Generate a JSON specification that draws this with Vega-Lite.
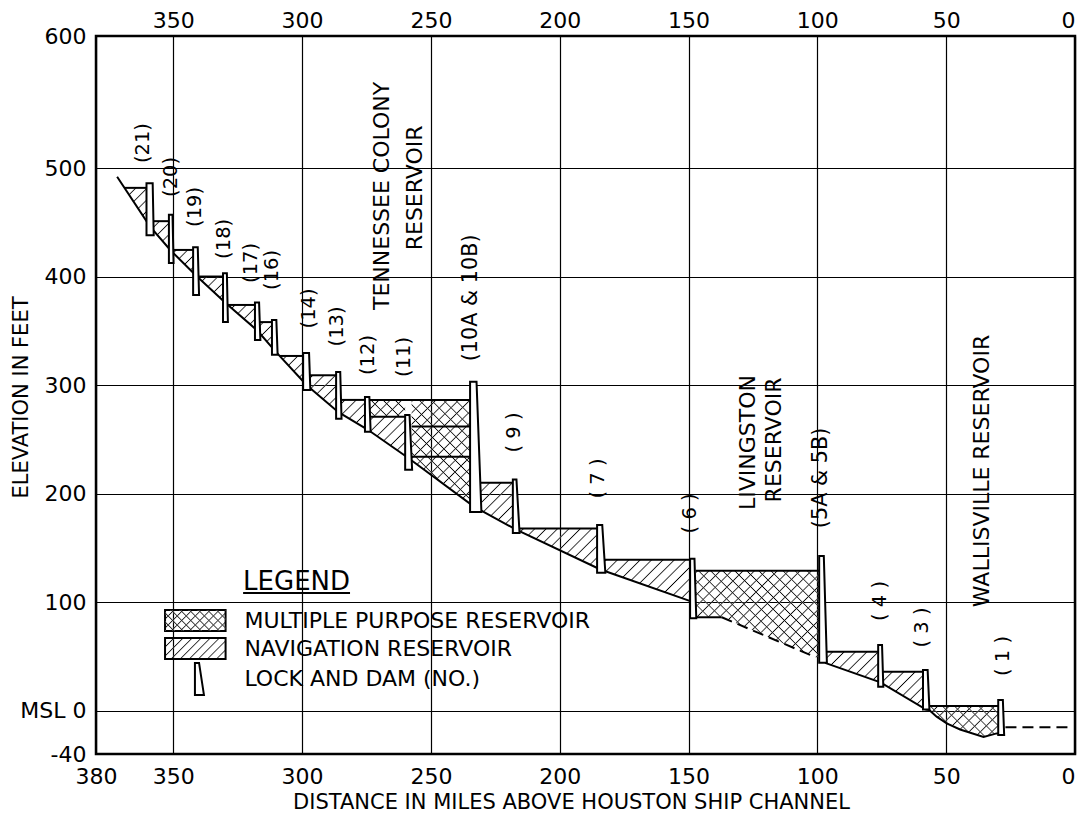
{
"$schema":"https://vega.github.io/schema/vega-lite/v6.json",
"width":979,"height":718,
"autosize":{"type":"none"},
"padding":{"left":96,"top":36,"right":4,"bottom":65},
"background":"white",
"config":{
"font":"DejaVu Sans",
"view":{"stroke":"#000","strokeWidth":2.5},
"axis":{"labelColor":"#000","titleColor":"#000","labelFont":"DejaVu Sans","titleFont":"DejaVu Sans","labelFontSize":22,"titleFontSize":21,"titleFontWeight":"normal","gridColor":"#000","gridOpacity":1,"gridWidth":1.2,"ticks":false,"domain":false,"labelFlush":false,"labelOverlap":false},
"text":{"color":"#000","font":"DejaVu Sans"}
},
"datasets":{
"hA":[
{"m":368.9,"e":481.7,"e2":481.7},{"m":360.4,"e":451.0,"e2":481.7},{"m":359.2,"e":null,"e2":null},
{"m":357.8,"e":442.7,"e2":451},{"m":351.7,"e":425.9,"e2":451},{"m":350.9,"e":null,"e2":null},
{"m":350.0,"e":421.7,"e2":424.5},{"m":342.3,"e":403.6,"e2":424.5},{"m":341.2,"e":null,"e2":null},
{"m":340.0,"e":398.3,"e2":400},{"m":330.7,"e":377.8,"e2":400},{"m":329.9,"e":null,"e2":null},
{"m":328.8,"e":373.8,"e2":373.8},{"m":318.3,"e":352.1,"e2":373.8},{"m":317.3,"e":null,"e2":null},
{"m":316.4,"e":347.5,"e2":358},{"m":311.7,"e":334.7,"e2":358},{"m":310.5,"e":null,"e2":null},
{"m":308.7,"e":326.8,"e2":326.8},{"m":299.6,"e":303.4,"e2":326.8},{"m":298.3,"e":null,"e2":null},
{"m":297.0,"e":297.4,"e2":309},{"m":286.8,"e":276.8,"e2":309},{"m":285.9,"e":null,"e2":null},
{"m":285.0,"e":273.7,"e2":286.3},{"m":275.6,"e":260.4,"e2":286.3},{"m":274.6,"e":null,"e2":null},
{"m":273.7,"e":257.5,"e2":286.3},{"m":260.0,"e":234.8,"e2":286.3},{"m":258.9,"e":null,"e2":null},
{"m":257.5,"e":230.5,"e2":286.3},{"m":234.8,"e":190.6,"e2":286.3},{"m":233.3,"e":null,"e2":null},
{"m":231.5,"e":185.7,"e2":210},{"m":218.2,"e":168.4,"e2":210},{"m":217.1,"e":null,"e2":null},
{"m":216.2,"e":166.0,"e2":167.8},{"m":185.5,"e":131.5,"e2":167.8},{"m":184.2,"e":null,"e2":null},
{"m":182.9,"e":128.9,"e2":139},{"m":149.4,"e":101.0,"e2":139},{"m":148.2,"e":null,"e2":null},
{"m":147.2,"e":86,"e2":128.9},{"m":137.1,"e":86,"e2":128.9},{"m":100.9,"e":49.4,"e2":128.9},{"m":99.3,"e":47.8,"e2":128.9},{"m":98.2,"e":null,"e2":null},
{"m":96.6,"e":43.7,"e2":54.3},{"m":76.4,"e":26.8,"e2":54.3},{"m":75.5,"e":null,"e2":null},
{"m":74.5,"e":24.6,"e2":35.8},{"m":59.0,"e":2.7,"e2":35.8},{"m":57.8,"e":null,"e2":null},
{"m":56.6,"e":0.5,"e2":4.2},{"m":53.7,"e":-5.6,"e2":4.2},{"m":49.8,"e":-11.8,"e2":4.2},{"m":44.6,"e":-17.4,"e2":4.2},{"m":35.5,"e":-24.2,"e2":4.2},{"m":30.4,"e":-21,"e2":4.2},{"m":29.8,"e":-21,"e2":4.2}
],
"hB":[
{"m":273.7,"e":270.7,"e2":286.3},{"m":260.0,"e":270.7,"e2":286.3},{"m":258.9,"e":null,"e2":null},
{"m":257.5,"e":230.5,"e2":286.3},{"m":234.8,"e":190.6,"e2":286.3},{"m":200,"e":null,"e2":null},
{"m":147.2,"e":86,"e2":128.9},{"m":137.1,"e":86,"e2":128.9},{"m":100.9,"e":49.4,"e2":128.9},{"m":99.3,"e":47.8,"e2":128.9},{"m":80,"e":null,"e2":null},
{"m":56.6,"e":0.5,"e2":4.2},{"m":53.7,"e":-5.6,"e2":4.2},{"m":49.8,"e":-11.8,"e2":4.2},{"m":44.6,"e":-17.4,"e2":4.2},{"m":35.5,"e":-24.2,"e2":4.2},{"m":30.4,"e":-21,"e2":4.2},{"m":29.8,"e":-21,"e2":4.2}
],
"surf":[
{"m":368.9,"m2":360.4,"e":481.7},{"m":357.8,"m2":351.7,"e":451},{"m":350.0,"m2":342.3,"e":424.5},{"m":340.0,"m2":330.7,"e":400},{"m":328.8,"m2":318.3,"e":373.8},{"m":316.4,"m2":311.7,"e":358},{"m":308.7,"m2":299.6,"e":326.8},{"m":297.0,"m2":286.8,"e":309},{"m":285.0,"m2":275.6,"e":286.3},{"m":273.7,"m2":260.0,"e":270.7},{"m":273.7,"m2":234.8,"e":286.3},{"m":257.5,"m2":234.8,"e":261.8},{"m":257.5,"m2":234.8,"e":234},{"m":231.5,"m2":218.2,"e":210},{"m":216.2,"m2":185.5,"e":167.8},{"m":182.9,"m2":149.4,"e":139},{"m":147.2,"m2":99.3,"e":128.9},{"m":96.6,"m2":76.4,"e":54.3},{"m":74.5,"m2":59.0,"e":35.8},{"m":56.6,"m2":29.8,"e":4.2}
],
"bed":[
{"s":"a","m":371.8,"e":492},{"s":"a","m":359.0,"e":446},{"s":"a","m":351.0,"e":424},{"s":"a","m":341.2,"e":401},{"s":"a","m":329.9,"e":376},{"s":"a","m":317.3,"e":350},{"s":"a","m":310.7,"e":332},{"s":"a","m":298.3,"e":300},{"s":"a","m":285.9,"e":275},{"s":"a","m":274.6,"e":259},{"s":"a","m":258.9,"e":233},{"s":"a","m":233.3,"e":188},{"s":"a","m":217.1,"e":167},{"s":"a","m":184.2,"e":130},{"s":"a","m":148.2,"e":100},
{"s":"b","m":147.1,"e":86},{"s":"b","m":137.1,"e":86},
{"s":"c","m":97.0,"e":44},{"s":"c","m":75.5,"e":26},{"s":"c","m":57.8,"e":1},{"s":"c","m":56.6,"e":0.5},{"s":"c","m":53.7,"e":-5.6},{"s":"c","m":49.8,"e":-11.8},{"s":"c","m":44.6,"e":-17.4},{"s":"c","m":35.5,"e":-24.2},{"s":"c","m":30.4,"e":-21},{"s":"c","m":28.7,"e":-21}
],
"dash":[
{"s":"a","m":137.1,"e":86},{"s":"a","m":100.9,"e":49.4},{"s":"b","m":27.0,"e":-15.4},{"s":"b","m":2.0,"e":-15.4}
],
"dams":[
{"d":"21","e":486,"m":360.4,"m2":358.0},{"d":"21","e":438,"m":360.4,"m2":357.6},
{"d":"20","e":457,"m":351.7,"m2":350.3},{"d":"20","e":412.5,"m":351.7,"m2":349.9},
{"d":"19","e":427,"m":342.3,"m2":340.5},{"d":"19","e":383,"m":342.3,"m2":340.0},
{"d":"18","e":403,"m":330.7,"m2":329.2},{"d":"18","e":358,"m":330.7,"m2":328.8},
{"d":"17","e":376,"m":318.3,"m2":316.7},{"d":"17","e":341.5,"m":318.3,"m2":316.2},
{"d":"16","e":360,"m":311.7,"m2":310.0},{"d":"16","e":328,"m":311.7,"m2":309.5},
{"d":"14","e":329.6,"m":299.6,"m2":297.3},{"d":"14","e":295.5,"m":299.6,"m2":296.8},
{"d":"13","e":312,"m":286.8,"m2":285.2},{"d":"13","e":269,"m":286.8,"m2":284.7},
{"d":"12","e":289,"m":275.6,"m2":273.9},{"d":"12","e":257,"m":275.6,"m2":273.4},
{"d":"11","e":272.4,"m":260.0,"m2":258.3},{"d":"11","e":222,"m":260.0,"m2":257.3},
{"d":"10","e":303,"m":234.8,"m2":232.3},{"d":"10","e":183,"m":234.8,"m2":230.4},
{"d":"9","e":213,"m":218.2,"m2":216.8},{"d":"9","e":163.6,"m":218.2,"m2":215.6},
{"d":"7","e":171,"m":185.5,"m2":183.5},{"d":"7","e":127,"m":185.5,"m2":182.3},
{"d":"6","e":140,"m":149.4,"m2":147.7},{"d":"6","e":85,"m":149.4,"m2":147.0},
{"d":"5","e":142.5,"m":99.3,"m2":97.5},{"d":"5","e":44,"m":99.3,"m2":96.3},
{"d":"4","e":60.5,"m":76.4,"m2":74.9},{"d":"4","e":22,"m":76.4,"m2":74.4},
{"d":"3","e":37.4,"m":59.0,"m2":57.2},{"d":"3","e":1,"m":59.0,"m2":56.5},
{"d":"1","e":9.8,"m":29.8,"m2":28.0},{"d":"1","e":-22.5,"m":29.8,"m2":27.5},
{"d":"L","e":43.9,"m":341.6,"m2":340.0},{"d":"L","e":14.4,"m":341.6,"m2":338.1}
],
"rot":[
{"t":"(21)","m":361.6,"e":518.9,"k":"n"},{"t":"(20)","m":350.7,"e":491.8,"k":"n"},{"t":"(19)","m":341.4,"e":464.1,"k":"n"},{"t":"(18)","m":330.3,"e":434.7,"k":"n"},{"t":"(17)","m":320.0,"e":412.5,"k":"n"},{"t":"(16)","m":311.7,"e":406.1,"k":"n"},{"t":"(14)","m":297.3,"e":370.6,"k":"n"},{"t":"(13)","m":286.3,"e":354,"k":"n"},{"t":"(12)","m":274.6,"e":327.7,"k":"n"},{"t":"(11)","m":260.4,"e":325.9,"k":"n"},{"t":"(10A & 10B)","m":234.4,"e":380.3,"k":"m"},{"t":"( 9 )","m":217.7,"e":256.3,"k":"n"},{"t":"( 7 )","m":185.3,"e":213.9,"k":"n"},{"t":"( 6 )","m":149.4,"e":181.7,"k":"n"},{"t":"(5A & 5B)","m":98.4,"e":214.4,"k":"m"},{"t":"( 4 )","m":75.5,"e":101,"k":"n"},{"t":"( 3 )","m":59.3,"e":76.6,"k":"n"},{"t":"( 1 )","m":28.1,"e":50.3,"k":"n"},
{"t":"TENNESSEE COLONY","m":269.0,"e":474.3,"k":"r"},{"t":"RESERVOIR","m":256.2,"e":481.7,"k":"r"},{"t":"LIVINGSTON","m":127.1,"e":247.1,"k":"r"},{"t":"RESERVOIR","m":117.0,"e":249.4,"k":"r"},{"t":"WALLISVILLE  RESERVOIR","m":36.1,"e":220.8,"k":"r"}
],
"leg":[
{"t":"LEGEND","m":322.9,"e":118.5,"k":"h"},{"t":"MULTIPLE PURPOSE RESERVOIR","m":322.4,"e":82.6,"k":"b"},{"t":"NAVIGATION RESERVOIR","m":322.4,"e":56.8,"k":"b"},{"t":"LOCK AND DAM  (NO.)","m":322.4,"e":29.1,"k":"b"}
],
"sw":[
{"k":"mp","m":353.2,"m2":329.7,"e":92.7,"e2":73.4},{"k":"nv","m":353.2,"m2":329.7,"e":66.9,"e2":47.6}
]
},
"encoding":{
"x":{"field":"m","type":"quantitative","scale":{"domain":[0,380],"reverse":true,"nice":false,"zero":false},"axis":null},
"y":{"field":"e","type":"quantitative","scale":{"domain":[-40,500,600],"range":[718,132,0],"nice":false,"zero":false},
"axis":{"values":[-40,0,100,200,300,400,500,600],"title":"ELEVATION IN FEET","grid":true,"labelPadding":10,"labelExpr":"datum.value == 0 ? 'MSL 0' : (datum.value == -40 ? '-40' : datum.label)","titleAngle":270,"titleX":-75,"titleY":361,"titleAlign":"center","titleBaseline":"middle"}}
},
"resolve":{"axis":{"x":"independent"},"scale":{"size":"independent"}},
"layer":[
{"data":{"name":"hA"},"mark":{"type":"area","orient":"vertical","invalid":"break-paths-show-domains","opacity":1,"fill":{"gradient":"linear","x1":0,"y1":0,"x2":1.1673,"y2":0.7336,"stops":[
{"offset":0,"color":"#000"},{"offset":0.0012,"color":"#fff0"},{"offset":0.0068,"color":"#fff0"},
{"offset":0.008,"color":"#000"},{"offset":0.0092,"color":"#fff0"},{"offset":0.0148,"color":"#fff0"},
{"offset":0.016,"color":"#000"},{"offset":0.0172,"color":"#fff0"},{"offset":0.0228,"color":"#fff0"},
{"offset":0.024,"color":"#000"},{"offset":0.0252,"color":"#fff0"},{"offset":0.0308,"color":"#fff0"},
{"offset":0.032,"color":"#000"},{"offset":0.0332,"color":"#fff0"},{"offset":0.0388,"color":"#fff0"},
{"offset":0.04,"color":"#000"},{"offset":0.0412,"color":"#fff0"},{"offset":0.0468,"color":"#fff0"},
{"offset":0.048,"color":"#000"},{"offset":0.0492,"color":"#fff0"},{"offset":0.0548,"color":"#fff0"},
{"offset":0.056,"color":"#000"},{"offset":0.0572,"color":"#fff0"},{"offset":0.0628,"color":"#fff0"},
{"offset":0.064,"color":"#000"},{"offset":0.0652,"color":"#fff0"},{"offset":0.0708,"color":"#fff0"},
{"offset":0.072,"color":"#000"},{"offset":0.0732,"color":"#fff0"},{"offset":0.0788,"color":"#fff0"},
{"offset":0.08,"color":"#000"},{"offset":0.0812,"color":"#fff0"},{"offset":0.0868,"color":"#fff0"},
{"offset":0.088,"color":"#000"},{"offset":0.0892,"color":"#fff0"},{"offset":0.0948,"color":"#fff0"},
{"offset":0.096,"color":"#000"},{"offset":0.0972,"color":"#fff0"},{"offset":0.1028,"color":"#fff0"},
{"offset":0.104,"color":"#000"},{"offset":0.1052,"color":"#fff0"},{"offset":0.1108,"color":"#fff0"},
{"offset":0.112,"color":"#000"},{"offset":0.1132,"color":"#fff0"},{"offset":0.1188,"color":"#fff0"},
{"offset":0.12,"color":"#000"},{"offset":0.1212,"color":"#fff0"},{"offset":0.1268,"color":"#fff0"},
{"offset":0.128,"color":"#000"},{"offset":0.1292,"color":"#fff0"},{"offset":0.1348,"color":"#fff0"},
{"offset":0.136,"color":"#000"},{"offset":0.1372,"color":"#fff0"},{"offset":0.1428,"color":"#fff0"},
{"offset":0.144,"color":"#000"},{"offset":0.1452,"color":"#fff0"},{"offset":0.1508,"color":"#fff0"},
{"offset":0.152,"color":"#000"},{"offset":0.1532,"color":"#fff0"},{"offset":0.1588,"color":"#fff0"},
{"offset":0.16,"color":"#000"},{"offset":0.1612,"color":"#fff0"},{"offset":0.1668,"color":"#fff0"},
{"offset":0.168,"color":"#000"},{"offset":0.1692,"color":"#fff0"},{"offset":0.1748,"color":"#fff0"},
{"offset":0.176,"color":"#000"},{"offset":0.1772,"color":"#fff0"},{"offset":0.1828,"color":"#fff0"},
{"offset":0.184,"color":"#000"},{"offset":0.1852,"color":"#fff0"},{"offset":0.1908,"color":"#fff0"},
{"offset":0.192,"color":"#000"},{"offset":0.1932,"color":"#fff0"},{"offset":0.1988,"color":"#fff0"},
{"offset":0.2,"color":"#000"},{"offset":0.2012,"color":"#fff0"},{"offset":0.2068,"color":"#fff0"},
{"offset":0.208,"color":"#000"},{"offset":0.2092,"color":"#fff0"},{"offset":0.2148,"color":"#fff0"},
{"offset":0.216,"color":"#000"},{"offset":0.2172,"color":"#fff0"},{"offset":0.2228,"color":"#fff0"},
{"offset":0.224,"color":"#000"},{"offset":0.2252,"color":"#fff0"},{"offset":0.2308,"color":"#fff0"},
{"offset":0.232,"color":"#000"},{"offset":0.2332,"color":"#fff0"},{"offset":0.2388,"color":"#fff0"},
{"offset":0.24,"color":"#000"},{"offset":0.2412,"color":"#fff0"},{"offset":0.2468,"color":"#fff0"},
{"offset":0.248,"color":"#000"},{"offset":0.2492,"color":"#fff0"},{"offset":0.2548,"color":"#fff0"},
{"offset":0.256,"color":"#000"},{"offset":0.2572,"color":"#fff0"},{"offset":0.2628,"color":"#fff0"},
{"offset":0.264,"color":"#000"},{"offset":0.2652,"color":"#fff0"},{"offset":0.2708,"color":"#fff0"},
{"offset":0.272,"color":"#000"},{"offset":0.2732,"color":"#fff0"},{"offset":0.2788,"color":"#fff0"},
{"offset":0.28,"color":"#000"},{"offset":0.2812,"color":"#fff0"},{"offset":0.2868,"color":"#fff0"},
{"offset":0.288,"color":"#000"},{"offset":0.2892,"color":"#fff0"},{"offset":0.2948,"color":"#fff0"},
{"offset":0.296,"color":"#000"},{"offset":0.2972,"color":"#fff0"},{"offset":0.3028,"color":"#fff0"},
{"offset":0.304,"color":"#000"},{"offset":0.3052,"color":"#fff0"},{"offset":0.3108,"color":"#fff0"},
{"offset":0.312,"color":"#000"},{"offset":0.3132,"color":"#fff0"},{"offset":0.3188,"color":"#fff0"},
{"offset":0.32,"color":"#000"},{"offset":0.3212,"color":"#fff0"},{"offset":0.3268,"color":"#fff0"},
{"offset":0.328,"color":"#000"},{"offset":0.3292,"color":"#fff0"},{"offset":0.3348,"color":"#fff0"},
{"offset":0.336,"color":"#000"},{"offset":0.3372,"color":"#fff0"},{"offset":0.3428,"color":"#fff0"},
{"offset":0.344,"color":"#000"},{"offset":0.3452,"color":"#fff0"},{"offset":0.3508,"color":"#fff0"},
{"offset":0.352,"color":"#000"},{"offset":0.3532,"color":"#fff0"},{"offset":0.3588,"color":"#fff0"},
{"offset":0.36,"color":"#000"},{"offset":0.3612,"color":"#fff0"},{"offset":0.3668,"color":"#fff0"},
{"offset":0.368,"color":"#000"},{"offset":0.3692,"color":"#fff0"},{"offset":0.3748,"color":"#fff0"},
{"offset":0.376,"color":"#000"},{"offset":0.3772,"color":"#fff0"},{"offset":0.3828,"color":"#fff0"},
{"offset":0.384,"color":"#000"},{"offset":0.3852,"color":"#fff0"},{"offset":0.3908,"color":"#fff0"},
{"offset":0.392,"color":"#000"},{"offset":0.3932,"color":"#fff0"},{"offset":0.3988,"color":"#fff0"},
{"offset":0.4,"color":"#000"},{"offset":0.4012,"color":"#fff0"},{"offset":0.4068,"color":"#fff0"},
{"offset":0.408,"color":"#000"},{"offset":0.4092,"color":"#fff0"},{"offset":0.4148,"color":"#fff0"},
{"offset":0.416,"color":"#000"},{"offset":0.4172,"color":"#fff0"},{"offset":0.4228,"color":"#fff0"},
{"offset":0.424,"color":"#000"},{"offset":0.4252,"color":"#fff0"},{"offset":0.4308,"color":"#fff0"},
{"offset":0.432,"color":"#000"},{"offset":0.4332,"color":"#fff0"},{"offset":0.4388,"color":"#fff0"},
{"offset":0.44,"color":"#000"},{"offset":0.4412,"color":"#fff0"},{"offset":0.4468,"color":"#fff0"},
{"offset":0.448,"color":"#000"},{"offset":0.4492,"color":"#fff0"},{"offset":0.4548,"color":"#fff0"},
{"offset":0.456,"color":"#000"},{"offset":0.4572,"color":"#fff0"},{"offset":0.4628,"color":"#fff0"},
{"offset":0.464,"color":"#000"},{"offset":0.4652,"color":"#fff0"},{"offset":0.4708,"color":"#fff0"},
{"offset":0.472,"color":"#000"},{"offset":0.4732,"color":"#fff0"},{"offset":0.4788,"color":"#fff0"},
{"offset":0.48,"color":"#000"},{"offset":0.4812,"color":"#fff0"},{"offset":0.4868,"color":"#fff0"},
{"offset":0.488,"color":"#000"},{"offset":0.4892,"color":"#fff0"},{"offset":0.4948,"color":"#fff0"},
{"offset":0.496,"color":"#000"},{"offset":0.4972,"color":"#fff0"},{"offset":0.5028,"color":"#fff0"},
{"offset":0.504,"color":"#000"},{"offset":0.5052,"color":"#fff0"},{"offset":0.5108,"color":"#fff0"},
{"offset":0.512,"color":"#000"},{"offset":0.5132,"color":"#fff0"},{"offset":0.5188,"color":"#fff0"},
{"offset":0.52,"color":"#000"},{"offset":0.5212,"color":"#fff0"},{"offset":0.5268,"color":"#fff0"},
{"offset":0.528,"color":"#000"},{"offset":0.5292,"color":"#fff0"},{"offset":0.5348,"color":"#fff0"},
{"offset":0.536,"color":"#000"},{"offset":0.5372,"color":"#fff0"},{"offset":0.5428,"color":"#fff0"},
{"offset":0.544,"color":"#000"},{"offset":0.5452,"color":"#fff0"},{"offset":0.5508,"color":"#fff0"},
{"offset":0.552,"color":"#000"},{"offset":0.5532,"color":"#fff0"},{"offset":0.5588,"color":"#fff0"},
{"offset":0.56,"color":"#000"},{"offset":0.5612,"color":"#fff0"},{"offset":0.5668,"color":"#fff0"},
{"offset":0.568,"color":"#000"},{"offset":0.5692,"color":"#fff0"},{"offset":0.5748,"color":"#fff0"},
{"offset":0.576,"color":"#000"},{"offset":0.5772,"color":"#fff0"},{"offset":0.5828,"color":"#fff0"},
{"offset":0.584,"color":"#000"},{"offset":0.5852,"color":"#fff0"},{"offset":0.5908,"color":"#fff0"},
{"offset":0.592,"color":"#000"},{"offset":0.5932,"color":"#fff0"},{"offset":0.5988,"color":"#fff0"},
{"offset":0.6,"color":"#000"},{"offset":0.6012,"color":"#fff0"},{"offset":0.6068,"color":"#fff0"},
{"offset":0.608,"color":"#000"},{"offset":0.6092,"color":"#fff0"},{"offset":0.6148,"color":"#fff0"},
{"offset":0.616,"color":"#000"},{"offset":0.6172,"color":"#fff0"},{"offset":0.6228,"color":"#fff0"},
{"offset":0.624,"color":"#000"},{"offset":0.6252,"color":"#fff0"},{"offset":0.6308,"color":"#fff0"},
{"offset":0.632,"color":"#000"},{"offset":0.6332,"color":"#fff0"},{"offset":0.6388,"color":"#fff0"},
{"offset":0.64,"color":"#000"},{"offset":0.6412,"color":"#fff0"},{"offset":0.6468,"color":"#fff0"},
{"offset":0.648,"color":"#000"},{"offset":0.6492,"color":"#fff0"},{"offset":0.6548,"color":"#fff0"},
{"offset":0.656,"color":"#000"},{"offset":0.6572,"color":"#fff0"},{"offset":0.6628,"color":"#fff0"},
{"offset":0.664,"color":"#000"},{"offset":0.6652,"color":"#fff0"},{"offset":0.6708,"color":"#fff0"},
{"offset":0.672,"color":"#000"},{"offset":0.6732,"color":"#fff0"},{"offset":0.6788,"color":"#fff0"},
{"offset":0.68,"color":"#000"},{"offset":0.6812,"color":"#fff0"},{"offset":0.6868,"color":"#fff0"},
{"offset":0.688,"color":"#000"},{"offset":0.6892,"color":"#fff0"},{"offset":0.6948,"color":"#fff0"},
{"offset":0.696,"color":"#000"},{"offset":0.6972,"color":"#fff0"},{"offset":0.7028,"color":"#fff0"},
{"offset":0.704,"color":"#000"},{"offset":0.7052,"color":"#fff0"},{"offset":0.7108,"color":"#fff0"},
{"offset":0.712,"color":"#000"},{"offset":0.7132,"color":"#fff0"},{"offset":0.7188,"color":"#fff0"},
{"offset":0.72,"color":"#000"},{"offset":0.7212,"color":"#fff0"},{"offset":0.7268,"color":"#fff0"},
{"offset":0.728,"color":"#000"},{"offset":0.7292,"color":"#fff0"},{"offset":0.7348,"color":"#fff0"},
{"offset":0.736,"color":"#000"},{"offset":0.7372,"color":"#fff0"},{"offset":0.7428,"color":"#fff0"},
{"offset":0.744,"color":"#000"},{"offset":0.7452,"color":"#fff0"},{"offset":0.7508,"color":"#fff0"},
{"offset":0.752,"color":"#000"},{"offset":0.7532,"color":"#fff0"},{"offset":0.7588,"color":"#fff0"},
{"offset":0.76,"color":"#000"},{"offset":0.7612,"color":"#fff0"},{"offset":0.7668,"color":"#fff0"},
{"offset":0.768,"color":"#000"},{"offset":0.7692,"color":"#fff0"},{"offset":0.7748,"color":"#fff0"},
{"offset":0.776,"color":"#000"},{"offset":0.7772,"color":"#fff0"},{"offset":0.7828,"color":"#fff0"},
{"offset":0.784,"color":"#000"},{"offset":0.7852,"color":"#fff0"},{"offset":0.7908,"color":"#fff0"},
{"offset":0.792,"color":"#000"},{"offset":0.7932,"color":"#fff0"},{"offset":0.7988,"color":"#fff0"},
{"offset":0.8,"color":"#000"},{"offset":0.8012,"color":"#fff0"},{"offset":0.8068,"color":"#fff0"},
{"offset":0.808,"color":"#000"},{"offset":0.8092,"color":"#fff0"},{"offset":0.8148,"color":"#fff0"},
{"offset":0.816,"color":"#000"},{"offset":0.8172,"color":"#fff0"},{"offset":0.8228,"color":"#fff0"},
{"offset":0.824,"color":"#000"},{"offset":0.8252,"color":"#fff0"},{"offset":0.8308,"color":"#fff0"},
{"offset":0.832,"color":"#000"},{"offset":0.8332,"color":"#fff0"},{"offset":0.8388,"color":"#fff0"},
{"offset":0.84,"color":"#000"},{"offset":0.8412,"color":"#fff0"},{"offset":0.8468,"color":"#fff0"},
{"offset":0.848,"color":"#000"},{"offset":0.8492,"color":"#fff0"},{"offset":0.8548,"color":"#fff0"},
{"offset":0.856,"color":"#000"},{"offset":0.8572,"color":"#fff0"},{"offset":0.8628,"color":"#fff0"},
{"offset":0.864,"color":"#000"},{"offset":0.8652,"color":"#fff0"},{"offset":0.8708,"color":"#fff0"},
{"offset":0.872,"color":"#000"},{"offset":0.8732,"color":"#fff0"},{"offset":0.8788,"color":"#fff0"},
{"offset":0.88,"color":"#000"},{"offset":0.8812,"color":"#fff0"},{"offset":0.8868,"color":"#fff0"},
{"offset":0.888,"color":"#000"},{"offset":0.8892,"color":"#fff0"},{"offset":0.8948,"color":"#fff0"},
{"offset":0.896,"color":"#000"},{"offset":0.8972,"color":"#fff0"},{"offset":0.9028,"color":"#fff0"},
{"offset":0.904,"color":"#000"},{"offset":0.9052,"color":"#fff0"},{"offset":0.9108,"color":"#fff0"},
{"offset":0.912,"color":"#000"},{"offset":0.9132,"color":"#fff0"},{"offset":0.9188,"color":"#fff0"},
{"offset":0.92,"color":"#000"},{"offset":0.9212,"color":"#fff0"},{"offset":0.9268,"color":"#fff0"},
{"offset":0.928,"color":"#000"},{"offset":0.9292,"color":"#fff0"},{"offset":0.9348,"color":"#fff0"},
{"offset":0.936,"color":"#000"},{"offset":0.9372,"color":"#fff0"},{"offset":0.9428,"color":"#fff0"},
{"offset":0.944,"color":"#000"},{"offset":0.9452,"color":"#fff0"},{"offset":0.9508,"color":"#fff0"},
{"offset":0.952,"color":"#000"},{"offset":0.9532,"color":"#fff0"},{"offset":0.9588,"color":"#fff0"},
{"offset":0.96,"color":"#000"},{"offset":0.9612,"color":"#fff0"},{"offset":0.9668,"color":"#fff0"},
{"offset":0.968,"color":"#000"},{"offset":0.9692,"color":"#fff0"},{"offset":0.9748,"color":"#fff0"},
{"offset":0.976,"color":"#000"},{"offset":0.9772,"color":"#fff0"},{"offset":0.9828,"color":"#fff0"},
{"offset":0.984,"color":"#000"},{"offset":0.9852,"color":"#fff0"},{"offset":0.9908,"color":"#fff0"},
{"offset":0.992,"color":"#000"},{"offset":0.9932,"color":"#fff0"},{"offset":0.9988,"color":"#fff0"},
{"offset":1,"color":"#000"}]}},
"encoding":{"y2":{"field":"e2"}}},
{"data":{"name":"hB"},"mark":{"type":"area","orient":"vertical","invalid":"break-paths-show-domains","opacity":1,"fill":{"gradient":"linear","x1":0,"y1":1,"x2":1.1932,"y2":0.3602,"stops":[
{"offset":0,"color":"#000"},{"offset":0.0016,"color":"#fff0"},{"offset":0.0109,"color":"#fff0"},
{"offset":0.0125,"color":"#000"},{"offset":0.0141,"color":"#fff0"},{"offset":0.0234,"color":"#fff0"},
{"offset":0.025,"color":"#000"},{"offset":0.0266,"color":"#fff0"},{"offset":0.0359,"color":"#fff0"},
{"offset":0.0375,"color":"#000"},{"offset":0.0391,"color":"#fff0"},{"offset":0.0484,"color":"#fff0"},
{"offset":0.05,"color":"#000"},{"offset":0.0516,"color":"#fff0"},{"offset":0.0609,"color":"#fff0"},
{"offset":0.0625,"color":"#000"},{"offset":0.0641,"color":"#fff0"},{"offset":0.0734,"color":"#fff0"},
{"offset":0.075,"color":"#000"},{"offset":0.0766,"color":"#fff0"},{"offset":0.0859,"color":"#fff0"},
{"offset":0.0875,"color":"#000"},{"offset":0.0891,"color":"#fff0"},{"offset":0.0984,"color":"#fff0"},
{"offset":0.1,"color":"#000"},{"offset":0.1016,"color":"#fff0"},{"offset":0.1109,"color":"#fff0"},
{"offset":0.1125,"color":"#000"},{"offset":0.1141,"color":"#fff0"},{"offset":0.1234,"color":"#fff0"},
{"offset":0.125,"color":"#000"},{"offset":0.1266,"color":"#fff0"},{"offset":0.1359,"color":"#fff0"},
{"offset":0.1375,"color":"#000"},{"offset":0.1391,"color":"#fff0"},{"offset":0.1484,"color":"#fff0"},
{"offset":0.15,"color":"#000"},{"offset":0.1516,"color":"#fff0"},{"offset":0.1609,"color":"#fff0"},
{"offset":0.1625,"color":"#000"},{"offset":0.1641,"color":"#fff0"},{"offset":0.1734,"color":"#fff0"},
{"offset":0.175,"color":"#000"},{"offset":0.1766,"color":"#fff0"},{"offset":0.1859,"color":"#fff0"},
{"offset":0.1875,"color":"#000"},{"offset":0.1891,"color":"#fff0"},{"offset":0.1984,"color":"#fff0"},
{"offset":0.2,"color":"#000"},{"offset":0.2016,"color":"#fff0"},{"offset":0.2109,"color":"#fff0"},
{"offset":0.2125,"color":"#000"},{"offset":0.2141,"color":"#fff0"},{"offset":0.2234,"color":"#fff0"},
{"offset":0.225,"color":"#000"},{"offset":0.2266,"color":"#fff0"},{"offset":0.2359,"color":"#fff0"},
{"offset":0.2375,"color":"#000"},{"offset":0.2391,"color":"#fff0"},{"offset":0.2484,"color":"#fff0"},
{"offset":0.25,"color":"#000"},{"offset":0.2516,"color":"#fff0"},{"offset":0.2609,"color":"#fff0"},
{"offset":0.2625,"color":"#000"},{"offset":0.2641,"color":"#fff0"},{"offset":0.2734,"color":"#fff0"},
{"offset":0.275,"color":"#000"},{"offset":0.2766,"color":"#fff0"},{"offset":0.2859,"color":"#fff0"},
{"offset":0.2875,"color":"#000"},{"offset":0.2891,"color":"#fff0"},{"offset":0.2984,"color":"#fff0"},
{"offset":0.3,"color":"#000"},{"offset":0.3016,"color":"#fff0"},{"offset":0.3109,"color":"#fff0"},
{"offset":0.3125,"color":"#000"},{"offset":0.3141,"color":"#fff0"},{"offset":0.3234,"color":"#fff0"},
{"offset":0.325,"color":"#000"},{"offset":0.3266,"color":"#fff0"},{"offset":0.3359,"color":"#fff0"},
{"offset":0.3375,"color":"#000"},{"offset":0.3391,"color":"#fff0"},{"offset":0.3484,"color":"#fff0"},
{"offset":0.35,"color":"#000"},{"offset":0.3516,"color":"#fff0"},{"offset":0.3609,"color":"#fff0"},
{"offset":0.3625,"color":"#000"},{"offset":0.3641,"color":"#fff0"},{"offset":0.3734,"color":"#fff0"},
{"offset":0.375,"color":"#000"},{"offset":0.3766,"color":"#fff0"},{"offset":0.3859,"color":"#fff0"},
{"offset":0.3875,"color":"#000"},{"offset":0.3891,"color":"#fff0"},{"offset":0.3984,"color":"#fff0"},
{"offset":0.4,"color":"#000"},{"offset":0.4016,"color":"#fff0"},{"offset":0.4109,"color":"#fff0"},
{"offset":0.4125,"color":"#000"},{"offset":0.4141,"color":"#fff0"},{"offset":0.4234,"color":"#fff0"},
{"offset":0.425,"color":"#000"},{"offset":0.4266,"color":"#fff0"},{"offset":0.4359,"color":"#fff0"},
{"offset":0.4375,"color":"#000"},{"offset":0.4391,"color":"#fff0"},{"offset":0.4484,"color":"#fff0"},
{"offset":0.45,"color":"#000"},{"offset":0.4516,"color":"#fff0"},{"offset":0.4609,"color":"#fff0"},
{"offset":0.4625,"color":"#000"},{"offset":0.4641,"color":"#fff0"},{"offset":0.4734,"color":"#fff0"},
{"offset":0.475,"color":"#000"},{"offset":0.4766,"color":"#fff0"},{"offset":0.4859,"color":"#fff0"},
{"offset":0.4875,"color":"#000"},{"offset":0.4891,"color":"#fff0"},{"offset":0.4984,"color":"#fff0"},
{"offset":0.5,"color":"#000"},{"offset":0.5016,"color":"#fff0"},{"offset":0.5109,"color":"#fff0"},
{"offset":0.5125,"color":"#000"},{"offset":0.5141,"color":"#fff0"},{"offset":0.5234,"color":"#fff0"},
{"offset":0.525,"color":"#000"},{"offset":0.5266,"color":"#fff0"},{"offset":0.5359,"color":"#fff0"},
{"offset":0.5375,"color":"#000"},{"offset":0.5391,"color":"#fff0"},{"offset":0.5484,"color":"#fff0"},
{"offset":0.55,"color":"#000"},{"offset":0.5516,"color":"#fff0"},{"offset":0.5609,"color":"#fff0"},
{"offset":0.5625,"color":"#000"},{"offset":0.5641,"color":"#fff0"},{"offset":0.5734,"color":"#fff0"},
{"offset":0.575,"color":"#000"},{"offset":0.5766,"color":"#fff0"},{"offset":0.5859,"color":"#fff0"},
{"offset":0.5875,"color":"#000"},{"offset":0.5891,"color":"#fff0"},{"offset":0.5984,"color":"#fff0"},
{"offset":0.6,"color":"#000"},{"offset":0.6016,"color":"#fff0"},{"offset":0.6109,"color":"#fff0"},
{"offset":0.6125,"color":"#000"},{"offset":0.6141,"color":"#fff0"},{"offset":0.6234,"color":"#fff0"},
{"offset":0.625,"color":"#000"},{"offset":0.6266,"color":"#fff0"},{"offset":0.6359,"color":"#fff0"},
{"offset":0.6375,"color":"#000"},{"offset":0.6391,"color":"#fff0"},{"offset":0.6484,"color":"#fff0"},
{"offset":0.65,"color":"#000"},{"offset":0.6516,"color":"#fff0"},{"offset":0.6609,"color":"#fff0"},
{"offset":0.6625,"color":"#000"},{"offset":0.6641,"color":"#fff0"},{"offset":0.6734,"color":"#fff0"},
{"offset":0.675,"color":"#000"},{"offset":0.6766,"color":"#fff0"},{"offset":0.6859,"color":"#fff0"},
{"offset":0.6875,"color":"#000"},{"offset":0.6891,"color":"#fff0"},{"offset":0.6984,"color":"#fff0"},
{"offset":0.7,"color":"#000"},{"offset":0.7016,"color":"#fff0"},{"offset":0.7109,"color":"#fff0"},
{"offset":0.7125,"color":"#000"},{"offset":0.7141,"color":"#fff0"},{"offset":0.7234,"color":"#fff0"},
{"offset":0.725,"color":"#000"},{"offset":0.7266,"color":"#fff0"},{"offset":0.7359,"color":"#fff0"},
{"offset":0.7375,"color":"#000"},{"offset":0.7391,"color":"#fff0"},{"offset":0.7484,"color":"#fff0"},
{"offset":0.75,"color":"#000"},{"offset":0.7516,"color":"#fff0"},{"offset":0.7609,"color":"#fff0"},
{"offset":0.7625,"color":"#000"},{"offset":0.7641,"color":"#fff0"},{"offset":0.7734,"color":"#fff0"},
{"offset":0.775,"color":"#000"},{"offset":0.7766,"color":"#fff0"},{"offset":0.7859,"color":"#fff0"},
{"offset":0.7875,"color":"#000"},{"offset":0.7891,"color":"#fff0"},{"offset":0.7984,"color":"#fff0"},
{"offset":0.8,"color":"#000"},{"offset":0.8016,"color":"#fff0"},{"offset":0.8109,"color":"#fff0"},
{"offset":0.8125,"color":"#000"},{"offset":0.8141,"color":"#fff0"},{"offset":0.8234,"color":"#fff0"},
{"offset":0.825,"color":"#000"},{"offset":0.8266,"color":"#fff0"},{"offset":0.8359,"color":"#fff0"},
{"offset":0.8375,"color":"#000"},{"offset":0.8391,"color":"#fff0"},{"offset":0.8484,"color":"#fff0"},
{"offset":0.85,"color":"#000"},{"offset":0.8516,"color":"#fff0"},{"offset":0.8609,"color":"#fff0"},
{"offset":0.8625,"color":"#000"},{"offset":0.8641,"color":"#fff0"},{"offset":0.8734,"color":"#fff0"},
{"offset":0.875,"color":"#000"},{"offset":0.8766,"color":"#fff0"},{"offset":0.8859,"color":"#fff0"},
{"offset":0.8875,"color":"#000"},{"offset":0.8891,"color":"#fff0"},{"offset":0.8984,"color":"#fff0"},
{"offset":0.9,"color":"#000"},{"offset":0.9016,"color":"#fff0"},{"offset":0.9109,"color":"#fff0"},
{"offset":0.9125,"color":"#000"},{"offset":0.9141,"color":"#fff0"},{"offset":0.9234,"color":"#fff0"},
{"offset":0.925,"color":"#000"},{"offset":0.9266,"color":"#fff0"},{"offset":0.9359,"color":"#fff0"},
{"offset":0.9375,"color":"#000"},{"offset":0.9391,"color":"#fff0"},{"offset":0.9484,"color":"#fff0"},
{"offset":0.95,"color":"#000"},{"offset":0.9516,"color":"#fff0"},{"offset":0.9609,"color":"#fff0"},
{"offset":0.9625,"color":"#000"},{"offset":0.9641,"color":"#fff0"},{"offset":0.9734,"color":"#fff0"},
{"offset":0.975,"color":"#000"},{"offset":0.9766,"color":"#fff0"},{"offset":0.9859,"color":"#fff0"},
{"offset":0.9875,"color":"#000"},{"offset":0.9891,"color":"#fff0"},{"offset":0.9984,"color":"#fff0"},
{"offset":1,"color":"#000"}]}},
"encoding":{"y2":{"field":"e2"}}},
{"data":{"name":"surf"},"mark":{"type":"rule","stroke":"#000","strokeWidth":2},
"encoding":{"x":{"field":"m","type":"quantitative","scale":{"domain":[0,380],"reverse":true,"nice":false,"zero":false},
"axis":{"orient":"top","values":[350,300,250,200,150,100,50,0],"title":null,"grid":false,"labelPadding":4,"labelAlign":{"condition":{"test":"datum.value == 0","value":"right"},"value":"center"}}},"x2":{"field":"m2"}}},
{"data":{"name":"bed"},"mark":{"type":"line","stroke":"#000","strokeWidth":2},
"encoding":{"x":{"field":"m","type":"quantitative","scale":{"domain":[0,380],"reverse":true,"nice":false,"zero":false},
"axis":{"orient":"bottom","values":[380,350,300,250,200,150,100,50,0],"title":"DISTANCE  IN  MILES ABOVE HOUSTON SHIP CHANNEL","grid":true,"labelPadding":12,"labelAlign":{"condition":{"test":"datum.value == 0","value":"right"},"value":"center"},"titleX":475,"titleY":48,"titleAlign":"center","titleBaseline":"middle"}},"detail":{"field":"s"}}},
{"data":{"name":"dash"},"mark":{"type":"line","stroke":"#000","strokeWidth":2,"strokeDash":[11,6]},"encoding":{"detail":{"field":"s"}}},
{"data":{"name":"dams"},"mark":{"type":"area","orient":"horizontal","fill":"#fff","stroke":"#000","strokeWidth":2,"opacity":1},"encoding":{"x2":{"field":"m2"},"detail":{"field":"d"}}},
{"data":{"name":"rot"},"mark":{"type":"text","angle":270,"align":"center","baseline":"middle","color":"#000"},
"encoding":{"text":{"field":"t"},"size":{"field":"k","type":"nominal","scale":{"domain":["n","m","r"],"range":[19.5,22,24.5]},"legend":null}}},
{"data":{"name":"sw"},"mark":{"type":"rect","stroke":"#000","strokeWidth":2,"fill":{"gradient":"linear","x1":0,"y1":0,"x2":1.202,"y2":0.417,"stops":[
{"offset":0,"color":"#000"},{"offset":0.02,"color":"#fff0"},{"offset":0.0911,"color":"#fff0"},
{"offset":0.1111,"color":"#000"},{"offset":0.1311,"color":"#fff0"},{"offset":0.2022,"color":"#fff0"},
{"offset":0.2222,"color":"#000"},{"offset":0.2422,"color":"#fff0"},{"offset":0.3133,"color":"#fff0"},
{"offset":0.3333,"color":"#000"},{"offset":0.3533,"color":"#fff0"},{"offset":0.4244,"color":"#fff0"},
{"offset":0.4444,"color":"#000"},{"offset":0.4644,"color":"#fff0"},{"offset":0.5356,"color":"#fff0"},
{"offset":0.5556,"color":"#000"},{"offset":0.5756,"color":"#fff0"},{"offset":0.6467,"color":"#fff0"},
{"offset":0.6667,"color":"#000"},{"offset":0.6867,"color":"#fff0"},{"offset":0.7578,"color":"#fff0"},
{"offset":0.7778,"color":"#000"},{"offset":0.7978,"color":"#fff0"},{"offset":0.8689,"color":"#fff0"},
{"offset":0.8889,"color":"#000"},{"offset":0.9089,"color":"#fff0"},{"offset":0.98,"color":"#fff0"},
{"offset":1,"color":"#000"}]}},
"encoding":{"x2":{"field":"m2"},"y2":{"field":"e2"}}},
{"data":{"name":"sw"},"transform":[{"filter":"datum.k == 'mp'"}],"mark":{"type":"rect","fill":{"gradient":"linear","x1":0,"y1":1,"x2":1.202,"y2":0.583,"stops":[
{"offset":0,"color":"#000"},{"offset":0.02,"color":"#fff0"},{"offset":0.0911,"color":"#fff0"},
{"offset":0.1111,"color":"#000"},{"offset":0.1311,"color":"#fff0"},{"offset":0.2022,"color":"#fff0"},
{"offset":0.2222,"color":"#000"},{"offset":0.2422,"color":"#fff0"},{"offset":0.3133,"color":"#fff0"},
{"offset":0.3333,"color":"#000"},{"offset":0.3533,"color":"#fff0"},{"offset":0.4244,"color":"#fff0"},
{"offset":0.4444,"color":"#000"},{"offset":0.4644,"color":"#fff0"},{"offset":0.5356,"color":"#fff0"},
{"offset":0.5556,"color":"#000"},{"offset":0.5756,"color":"#fff0"},{"offset":0.6467,"color":"#fff0"},
{"offset":0.6667,"color":"#000"},{"offset":0.6867,"color":"#fff0"},{"offset":0.7578,"color":"#fff0"},
{"offset":0.7778,"color":"#000"},{"offset":0.7978,"color":"#fff0"},{"offset":0.8689,"color":"#fff0"},
{"offset":0.8889,"color":"#000"},{"offset":0.9089,"color":"#fff0"},{"offset":0.98,"color":"#fff0"},
{"offset":1,"color":"#000"}]}},
"encoding":{"x2":{"field":"m2"},"y2":{"field":"e2"}}},
{"data":{"name":"leg"},"mark":{"type":"text","align":"left","baseline":"middle","color":"#000"},
"encoding":{"text":{"field":"t"},"size":{"field":"k","type":"nominal","scale":{"domain":["h","b"],"range":[26,22]},"legend":null}}},
{"data":{"values":[{"m":322.9,"m2":281.4,"e":108.4}]},"mark":{"type":"rule","stroke":"#000","strokeWidth":2},"encoding":{"x2":{"field":"m2"}}}
]
}
